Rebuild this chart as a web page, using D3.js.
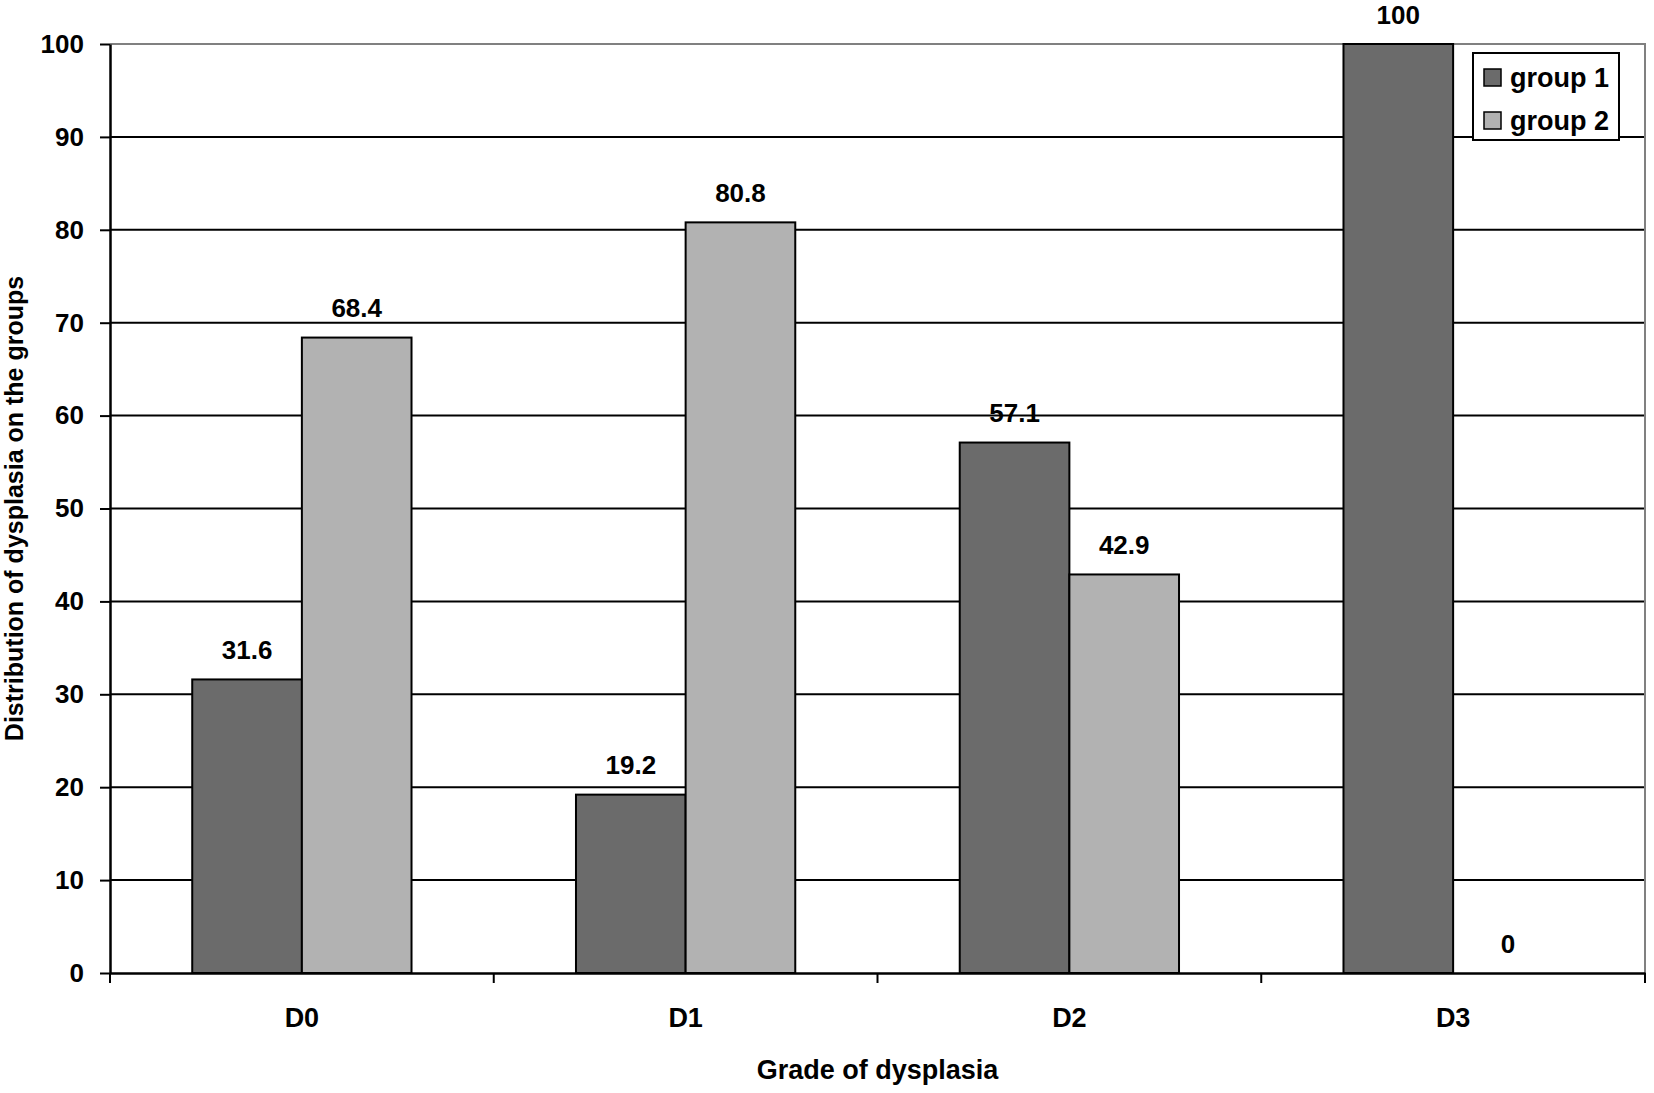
<!DOCTYPE html>
<html>
<head>
<meta charset="utf-8">
<script src="https://cdn.jsdelivr.net/npm/d3@7"></script>
<style>
  html, body { margin: 0; padding: 0; background: #fff; }
  svg text { font-family: "Liberation Sans", Arial, sans-serif; font-weight: bold; fill: #000; }
</style>
</head>
<body>
<svg id="chart" width="1654" height="1093"></svg>
<script>
const categories = ["D0", "D1", "D2", "D3"];
const seriesNames = ["group 1", "group 2"];
const group1 = [31.6, 19.2, 57.1, 100];
const group2 = [68.4, 80.8, 42.9, 0];
const yTicks = [0, 10, 20, 30, 40, 50, 60, 70, 80, 90, 100];
const colors = ["#6b6b6b", "#b2b2b2"];
const xTitle = "Grade of dysplasia";
const yTitle = "Distribution of dysplasia on the groups";

const svg = d3.select("#chart");
const pLeft = 110, pRight = 1645, pTop = 44, pBottom = 973;

const x = d3.scaleBand().domain(categories).range([pLeft, pRight]).paddingInner(0).paddingOuter(0);
const x1 = d3.scaleBand().domain(seriesNames).range([0, x.bandwidth()]).paddingInner(0).paddingOuter(0.75);
const y = d3.scaleLinear().domain([0, 100]).range([pBottom, pTop]);

// gridlines
svg.append("g").selectAll("line").data(yTicks.filter(t => t > 0 && t < 100)).join("line")
  .attr("x1", pLeft).attr("x2", pRight)
  .attr("y1", d => y(d)).attr("y2", d => y(d))
  .attr("stroke", "#000").attr("stroke-width", 2);

// plot border top/right (gray)
svg.append("path")
  .attr("d", `M${pLeft},${y(100)}H${pRight}V${y(0)}`)
  .attr("fill", "none").attr("stroke", "#808080").attr("stroke-width", 2);

// bars
const data = [];
categories.forEach((c, i) => {
  data.push({ cat: c, s: seriesNames[0], v: group1[i], col: colors[0] });
  data.push({ cat: c, s: seriesNames[1], v: group2[i], col: colors[1] });
});

svg.append("g").selectAll("rect").data(data.filter(d => d.v > 0)).join("rect")
  .attr("x", d => x(d.cat) + x1(d.s))
  .attr("y", d => y(d.v))
  .attr("width", x1.bandwidth())
  .attr("height", d => y(0) - y(d.v))
  .attr("fill", d => d.col)
  .attr("stroke", "#000").attr("stroke-width", 2);

// value labels
svg.append("g").selectAll("text").data(data).join("text")
  .attr("x", d => x(d.cat) + x1(d.s) + x1.bandwidth() / 2)
  .attr("y", d => y(d.v) - 20.5)
  .attr("text-anchor", "middle")
  .attr("font-size", 26)
  .text(d => d.v);

// y axis
const yAxis = svg.append("g").attr("transform", `translate(${pLeft},0)`)
  .call(d3.axisLeft(y).tickValues(yTicks).tickSize(10).tickSizeOuter(0).tickPadding(16).tickFormat(d3.format("d")));
yAxis.select(".domain").attr("stroke", "#000").attr("stroke-width", 2.5);
yAxis.selectAll(".tick line").attr("stroke", "#000").attr("stroke-width", 2);
yAxis.selectAll(".tick text").attr("font-size", 26).attr("font-family", "Liberation Sans, Arial, sans-serif").attr("font-weight", "bold").attr("fill", "#000");

// x axis
const xAxis = svg.append("g").attr("transform", `translate(0,${pBottom})`)
  .call(d3.axisBottom(x).tickSize(0).tickSizeOuter(0).tickPadding(34.5));
xAxis.select(".domain").attr("stroke", "#000").attr("stroke-width", 2.5);
xAxis.selectAll(".tick text").attr("font-size", 27).attr("font-family", "Liberation Sans, Arial, sans-serif").attr("font-weight", "bold").attr("fill", "#000");

// category boundary ticks
const bounds = categories.map(c => x(c)).concat([x(categories[categories.length - 1]) + x.bandwidth()]);
svg.append("g").selectAll("line").data(bounds).join("line")
  .attr("x1", d => d).attr("x2", d => d)
  .attr("y1", pBottom).attr("y2", pBottom + 10)
  .attr("stroke", "#000").attr("stroke-width", 2);

// axis titles
svg.append("text")
  .attr("x", (pLeft + pRight) / 2).attr("y", 1079)
  .attr("text-anchor", "middle").attr("font-size", 27)
  .text(xTitle);

svg.append("text")
  .attr("transform", `translate(23,${(pTop + pBottom) / 2}) rotate(-90)`)
  .attr("text-anchor", "middle").attr("font-size", 25)
  .text(yTitle);

// legend
const lg = svg.append("g");
lg.append("rect").attr("x", 1473).attr("y", 53).attr("width", 146).attr("height", 87)
  .attr("fill", "#fff").attr("stroke", "#000").attr("stroke-width", 2);
seriesNames.forEach((s, i) => {
  const yy = 69 + i * 43;
  lg.append("rect").attr("x", 1484).attr("y", yy).attr("width", 17).attr("height", 17)
    .attr("fill", colors[i]).attr("stroke", "#000").attr("stroke-width", 1.5);
  lg.append("text").attr("x", 1510).attr("y", yy + 18).attr("font-size", 27).text(s);
});
</script>
</body>
</html>
